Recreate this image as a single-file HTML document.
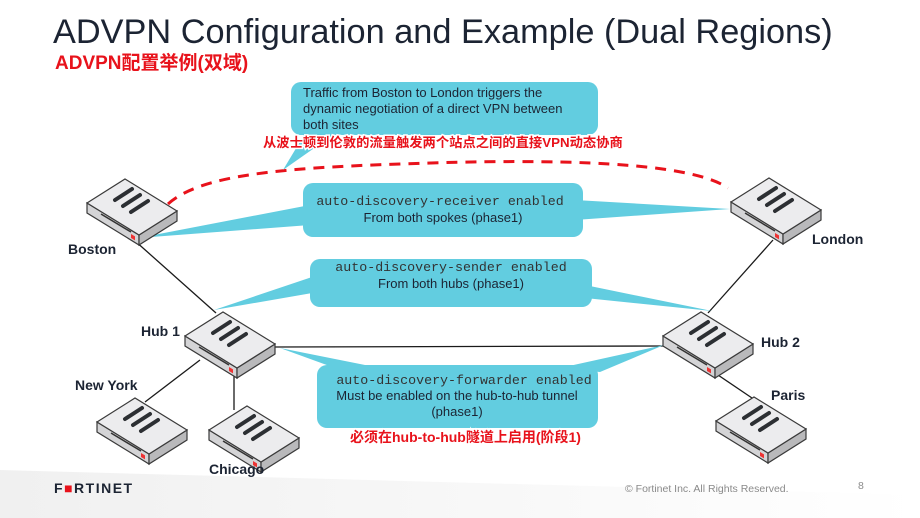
<!DOCTYPE html>
<html><head><meta charset="utf-8"><style>
html,body{margin:0;padding:0;background:#fff;}
svg{display:block;}
.t{font-family:"Liberation Sans",sans-serif;}
.m{font-family:"Liberation Mono",monospace;}
.cn{font-family:"Liberation Sans","Noto Sans CJK SC",sans-serif;font-weight:bold;}
</style></head><body>
<svg width="920" height="518" viewBox="0 0 920 518" xmlns="http://www.w3.org/2000/svg">
<defs>
<linearGradient id="ft" x1="0" y1="0" x2="1" y2="0"><stop offset="0" stop-color="#f0f0f0"/><stop offset="1" stop-color="#fff"/></linearGradient>
<g id="dev">
  <polygon points="0,0 52,32 52,42 0,10" fill="#d4d4d6" stroke="#3a3a3a" stroke-width="1.2"/>
  <polygon points="52,32 90,8 90,18 52,42" fill="#b9b9bb" stroke="#3a3a3a" stroke-width="1.2"/>
  <polygon points="0,0 38,-24 90,8 52,32" fill="#ececee" stroke="#3a3a3a" stroke-width="1.2"/>
  <line x1="14" y1="11" x2="44" y2="29" stroke="#333" stroke-width="1.5"/>
  <rect x="44" y="31" width="4" height="4" fill="#e33" transform="skewY(31)" transform-origin="44 31"/>
  <line x1="28" y1="-3" x2="45" y2="-14" stroke="#2c2f33" stroke-width="4" stroke-linecap="round"/>
  <line x1="36" y1="3" x2="53" y2="-8" stroke="#2c2f33" stroke-width="4" stroke-linecap="round"/>
  <line x1="44" y1="9" x2="61" y2="-2" stroke="#2c2f33" stroke-width="4" stroke-linecap="round"/>
</g>
</defs>
<rect width="920" height="518" fill="#fff"/>
<polygon points="0,470 920,495 920,518 0,518" fill="url(#ft)"/>

<text x="53" y="43" class="t" font-size="34.3" fill="#1c2433">ADVPN Configuration and Example (Dual Regions)</text>
<text x="55" y="69" class="cn" font-size="19" fill="#e8121b" stroke="#fff" stroke-width="3" paint-order="stroke">ADVPN配置举例(双域)</text>

<g stroke="#1a1a1a" stroke-width="1.3" fill="none">
<line x1="134" y1="240" x2="216" y2="313"/>
<line x1="773" y1="240" x2="708" y2="313"/>
<line x1="275" y1="347" x2="665" y2="346"/>
<line x1="718" y1="375" x2="752" y2="398"/>
<line x1="200" y1="360" x2="145" y2="402"/>
<line x1="234" y1="370" x2="234" y2="410"/>
</g>

<path d="M168,204 C200,175 280,168 400,164 C560,158 690,162 728,188" fill="none" stroke="#e8121b" stroke-width="3" stroke-dasharray="11,8"/>

<g fill="#62cde0">
<polygon points="310,125 340,130 283,170"/>
<rect x="291" y="82" width="307" height="53" rx="10"/>
<polygon points="310,205 310,225 138,238"/>
<polygon points="575,200 575,220 730,209"/>
<rect x="303" y="183" width="280" height="54" rx="10"/>
<polygon points="318,275 318,292 214,310"/>
<polygon points="585,285 585,298 712,311"/>
<rect x="310" y="259" width="282" height="48" rx="10"/>
<polygon points="335,368 380,368 280,348"/>
<polygon points="560,368 600,372 664,345"/>
<rect x="317" y="365" width="281" height="63" rx="10"/>
</g>
<g class="t" font-size="13" fill="#1c2433">
<text x="303" y="97">Traffic from Boston to London triggers the</text>
<text x="303" y="113">dynamic negotiation of a direct VPN between</text>
<text x="303" y="129">both sites</text>
<text x="443" y="222" text-anchor="middle">From both spokes (phase1)</text>
<text x="451" y="288" text-anchor="middle">From both hubs (phase1)</text>
<text x="457" y="400" text-anchor="middle">Must be enabled on the hub-to-hub tunnel</text>
<text x="457" y="416" text-anchor="middle">(phase1)</text>
</g>
<g class="m" font-size="13.3" fill="#333">
<text x="440" y="205" text-anchor="middle">auto-discovery-receiver enabled</text>
<text x="451" y="271" text-anchor="middle">auto-discovery-sender enabled</text>
<text x="464" y="384" text-anchor="middle">auto-discovery-forwarder enabled</text>
</g>
<text x="263" y="147" class="cn" font-size="13.3" fill="#e8121b" stroke="#fff" stroke-width="3" paint-order="stroke">从波士顿到伦敦的流量触发两个站点之间的直接VPN动态协商</text>
<text x="350" y="442" class="cn" font-size="14" fill="#e8121b" stroke="#fff" stroke-width="3" paint-order="stroke">必须在hub-to-hub隧道上启用(阶段1)</text>

<use href="#dev" x="87" y="203"/>
<use href="#dev" x="731" y="202"/>
<use href="#dev" x="185" y="336"/>
<use href="#dev" x="663" y="336"/>
<use href="#dev" x="716" y="421"/>
<use href="#dev" x="97" y="422"/>
<use href="#dev" x="209" y="430"/>

<g class="t" font-size="14" font-weight="bold" fill="#1c2433">
<text x="68" y="254">Boston</text>
<text x="812" y="244">London</text>
<text x="141" y="336">Hub 1</text>
<text x="761" y="347">Hub 2</text>
<text x="771" y="400">Paris</text>
<text x="75" y="390">New York</text>
<text x="209" y="474">Chicago</text>
</g>

<text x="54" y="493" class="t" font-size="14" font-weight="bold" fill="#1c2433" letter-spacing="1.5">F<tspan fill="#e8121b">■</tspan>RTINET</text>
<text x="625" y="492" class="t" font-size="10.5" fill="#8a8a8a">© Fortinet Inc. All Rights Reserved.</text>
<text x="858" y="489" class="t" font-size="10.5" fill="#8a8a8a">8</text>
</svg>
</body></html>
